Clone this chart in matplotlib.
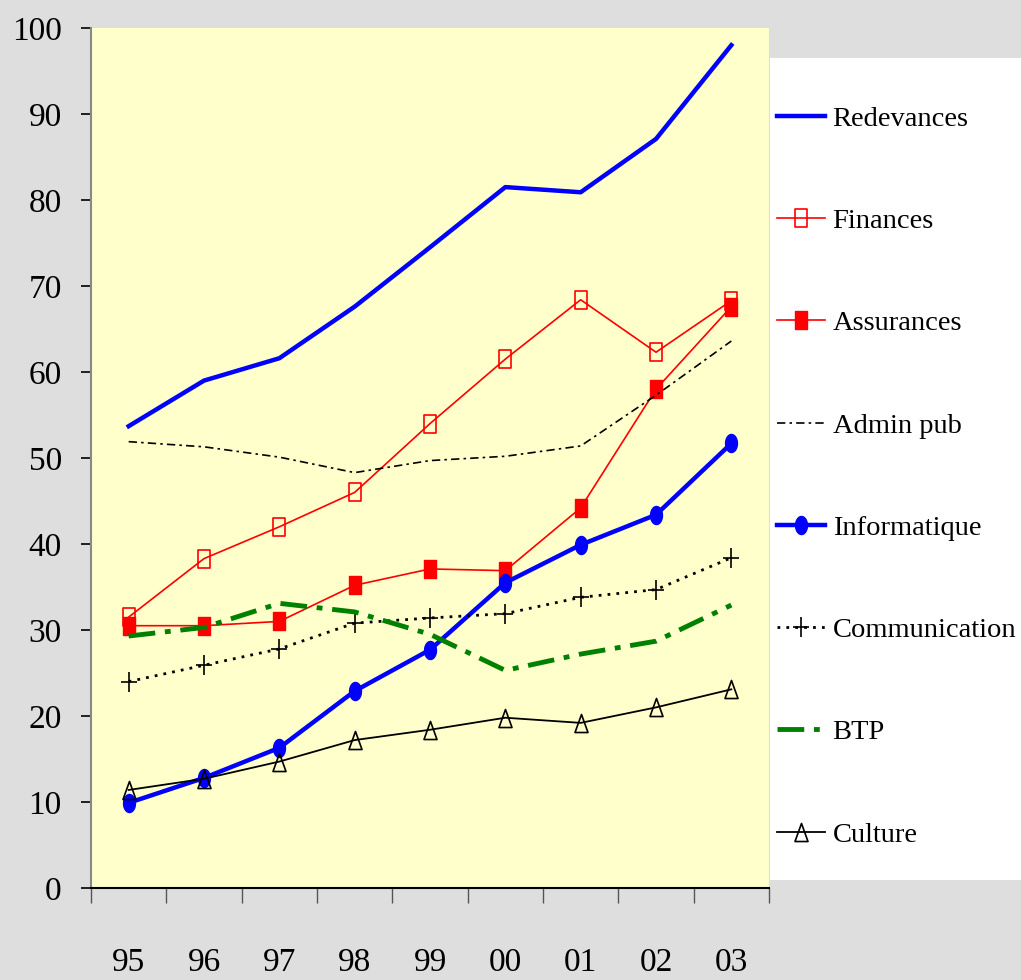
import matplotlib.pyplot as plt
import numpy as np
from matplotlib.patches import Rectangle
from matplotlib.path import Path

years = ["95", "96", "97", "98", "99", "00", "01", "02", "03"]

redevances = [53.7, 59.0, 61.6, 67.6, 74.5, 81.5, 80.9, 87.1, 98.0]
finances = [31.5, 38.3, 42.0, 46.0, 54.0, 61.5, 68.4, 62.3, 68.3]
assurances = [30.5, 30.5, 31.0, 35.2, 37.1, 36.9, 44.2, 58.0, 67.6]
admin_pub = [51.9, 51.3, 50.1, 48.3, 49.7, 50.2, 51.4, 57.3, 63.6]
informatique = [9.9, 12.8, 16.3, 22.9, 27.7, 35.5, 39.9, 43.4, 51.7]
communication = [24.0, 25.9, 27.8, 30.8, 31.4, 31.9, 33.8, 34.7, 38.4]
btp = [29.3, 30.3, 33.1, 32.1, 29.5, 25.3, 27.2, 28.7, 32.9]
culture = [11.4, 12.7, 14.7, 17.2, 18.4, 19.8, 19.2, 21.0, 23.1]

plt.rcParams["font.family"] = ["Liberation Serif", "DejaVu Serif"]

# tall (horizontally squeezed) marker shapes
rect = Path([(-0.33, -0.5), (0.33, -0.5), (0.33, 0.5), (-0.33, 0.5), (-0.33, -0.5)],
            [Path.MOVETO, Path.LINETO, Path.LINETO, Path.LINETO, Path.CLOSEPOLY])
t = np.linspace(0, 2 * np.pi, 40)
ellipse = Path(np.column_stack([0.33 * np.cos(t), 0.5 * np.sin(t)]), closed=True)
tri = Path([(0, 0.5), (0.36, -0.5), (-0.36, -0.5), (0, 0.5)],
           [Path.MOVETO, Path.LINETO, Path.LINETO, Path.CLOSEPOLY])
plus = Path([(-0.4, 0), (0.4, 0), (0, -0.5), (0, 0.5)],
            [Path.MOVETO, Path.LINETO, Path.MOVETO, Path.LINETO])

fig = plt.figure(figsize=(10.21, 9.80), dpi=100)
fig.patch.set_facecolor("#dedede")
ax = fig.add_axes([91 / 1021, 1 - 888 / 980, 678 / 1021, 860 / 980])
ax.set_facecolor("#ffffcc")

x = np.arange(len(years))

ax.plot(x, redevances, color="#0000ff", lw=3.2, label="Redevances")
ax.plot(x, finances, color="#ff0000", lw=1.2, marker=rect, ms=13,
        mfc="none", mec="#ff0000", mew=1.2, label="Finances")
ax.plot(x, assurances, color="#ff0000", lw=1.2, marker=rect, ms=13,
        mfc="#ff0000", mec="#ff0000", label="Assurances")
ax.plot(x, admin_pub, color="black", lw=1.2, ls=(0, (5, 2.5, 1.5, 2.5)),
        label="Admin pub")
ax.plot(x, informatique, color="#0000ff", lw=3.2, marker=ellipse, ms=13,
        mfc="#0000ff", mec="#0000ff", label="Informatique")
ax.plot(x, communication, color="black", lw=2.0, ls=(0, (1.0, 2.2)),
        marker=plus, ms=14, mew=1.2, label="Communication")
ax.plot(x, btp, color="#008000", lw=3.5, ls=(0, (5.5, 2, 1.2, 2)), label="BTP")
ax.plot(x, culture, color="black", lw=1.3, marker=tri, ms=13,
        mfc="none", mec="black", mew=1.2, label="Culture")

ax.set_xlim(-0.5, len(years) - 0.5)
ax.set_ylim(0, 100)
ax.set_yticks(range(0, 101, 10))
ax.set_xticks(x)
ax.set_xticklabels(years)
ax.set_xticks(np.arange(-0.5, len(years), 1.0), minor=True)
ax.tick_params(axis="x", which="major", length=0, pad=43, labelsize=24)
ax.tick_params(axis="x", which="minor", length=11, width=1, color="#555555",
               direction="out")
ax.tick_params(axis="y", length=7, width=1.2, color="black", direction="out",
               pad=14, labelsize=24)

ax.spines["top"].set_visible(False)
ax.spines["right"].set_visible(False)
ax.spines["left"].set_color("#888888")
ax.spines["left"].set_linewidth(1.5)
ax.spines["bottom"].set_color("black")
ax.spines["bottom"].set_linewidth(1.5)

# white legend panel
fig.patches.append(Rectangle((770 / 1021, 1 - 880 / 980), 251 / 1021, 822 / 980,
                             transform=fig.transFigure, facecolor="white",
                             edgecolor="none", zorder=0))
handles, labels = ax.get_legend_handles_labels()
fig.legend(handles, labels, loc="upper left",
           bbox_to_anchor=(777 / 1021, 1 - 106 / 980), frameon=False,
           fontsize=20.5, handlelength=1.7, handletextpad=0.25,
           labelspacing=2.68, borderaxespad=0, borderpad=0)

fig.savefig("out.png", dpi=100, facecolor=fig.get_facecolor())
